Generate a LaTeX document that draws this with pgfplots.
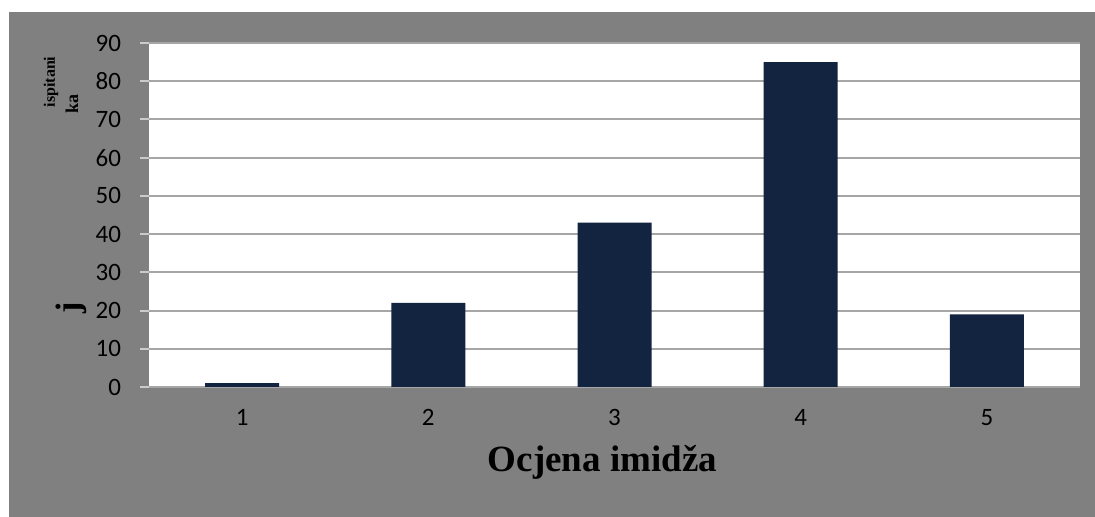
\documentclass[border=0pt]{standalone}
\usepackage{fontspec}
\setmainfont{Liberation Serif}
\newfontfamily\calibri{Carlito}
\usepackage{pgfplots}
\pgfplotsset{compat=1.18}
\definecolor{bgray}{HTML}{808080}
\definecolor{barblue}{HTML}{12243F}
\definecolor{gridgray}{HTML}{A6A6A6}
\begin{document}
\begin{tikzpicture}
  \path[use as bounding box] (0,0) rectangle (547.5pt,258.5pt);
  \fill[bgray] (4.5pt,0) rectangle (547.5pt,252.5pt);
  \begin{axis}[
    at={(74.5pt,65pt)}, anchor=south west,
    scale only axis, width=465.5pt, height=172pt,
    xmin=0.5, xmax=5.5, ymin=0, ymax=90,
    xtick={1,2,3,4,5}, ytick={0,10,...,90},
    axis background/.style={fill=white},
    axis line style={draw=none},
    ymajorgrids, major grid style={gridgray, line width=1pt},
    ytick pos=left, tick align=outside, major tick length=4.5pt,
    ytick style={draw=gridgray!60, line width=1pt},
    xtick style={draw=none},
    /pgf/number format/assume math mode=true,
    ticklabel style={font=\calibri\fontsize{12.5}{14}\selectfont, text=black},
    yticklabel style={xshift=-6pt},
    xticklabel style={yshift=-3pt},
    ybar, bar width=37pt,
  ]
    \addplot[fill=barblue, draw=none] coordinates {
      (1,1) (2,22) (3,43) (4,85) (5,19)
    };
  \end{axis}
  \node[anchor=base, font=\bfseries\fontsize{18.5}{20}\selectfont] at (301.25pt,22.5pt) {Ocjena imidža};
  \node[rotate=90, font=\bfseries\fontsize{8}{9}\selectfont] at (25.5pt,217.5pt) {ispitani};
  \node[rotate=90, font=\bfseries\fontsize{9}{10}\selectfont] at (36pt,206.5pt) {ka};
  \node[rotate=90, font=\bfseries\fontsize{17}{18}\selectfont] at (35.5pt,104.5pt) {j};
\end{tikzpicture}
\end{document}
